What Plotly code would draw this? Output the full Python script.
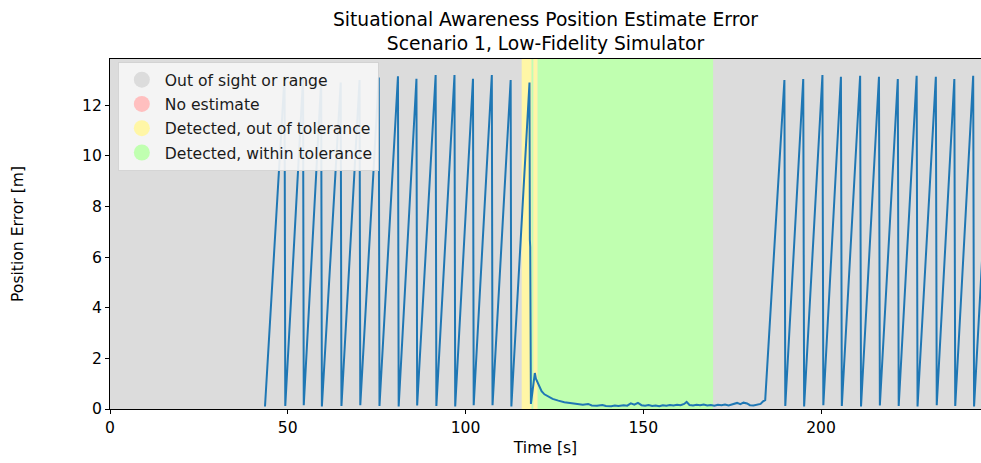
import plotly.graph_objects as go

# ---------------- data ----------------
# Sawtooth before detection (time [s], error [m])
pre_t = [43.6, 49.1, 49.3, 54.3, 54.5, 59.4, 59.6, 64.9, 65.1, 70.2, 70.4,
         75.6, 75.8, 81.0, 81.2, 86.2, 86.4, 91.6, 91.8, 96.9, 97.1, 102.1, 102.3,
         107.4, 107.6, 112.7, 112.9, 118.0]
pre_e = [0.10, 13.15, 0.12, 13.05, 0.15, 12.95, 0.10, 12.90, 0.12, 13.00, 0.15,
         13.10, 0.12, 13.15, 0.10, 13.05, 0.14, 13.20, 0.12, 13.20, 0.10, 13.05, 0.15,
         13.20, 0.15, 13.00, 0.10, 12.90]

# Detection / tracking segment
mid_t = [118.1, 118.2, 118.4, 119.5, 119.8, 120.3, 120.8, 121.4, 122.2, 123.3,
         124.5, 126.1, 127.8, 129.9, 131.5, 133.0, 134.5, 135.5, 137.0, 138.5,
         139.5, 141.0, 142.0, 143.0, 144.5, 145.5, 146.5, 147.5, 148.5, 149.5,
         150.5, 151.5, 152.5, 153.5, 154.5, 155.5, 156.5, 157.5, 158.5, 159.5,
         160.5, 161.5, 162.2, 163.0, 164.0, 165.0, 166.0, 167.0, 168.0, 169.0,
         170.0, 171.0, 172.0, 173.0, 174.0, 175.0, 176.4, 177.3, 178.2, 179.2,
         180.0, 181.0, 182.0, 183.0, 183.7, 184.3]
mid_e = [6.70, 6.40, 0.20, 1.42, 1.20, 1.02, 0.85, 0.70, 0.58, 0.49,
         0.40, 0.33, 0.27, 0.23, 0.20, 0.17, 0.20, 0.14, 0.13, 0.16,
         0.12, 0.11, 0.14, 0.12, 0.15, 0.13, 0.22, 0.17, 0.24, 0.15,
         0.13, 0.16, 0.12, 0.14, 0.11, 0.15, 0.13, 0.16, 0.14, 0.17,
         0.15, 0.20, 0.28, 0.16, 0.14, 0.17, 0.15, 0.18, 0.14, 0.16,
         0.13, 0.17, 0.15, 0.18, 0.14, 0.17, 0.24, 0.19, 0.25, 0.22,
         0.15, 0.14, 0.16, 0.20, 0.30, 0.35]

# Sawtooth after losing the target
post_t = [189.7, 189.95, 195.0, 195.25, 200.4, 200.65, 205.6, 205.85, 211.0, 211.25,
          216.3, 216.55, 221.6, 221.85, 226.9, 227.15, 232.3, 232.55, 237.5, 237.75,
          242.8, 243.05, 248.1]
post_e = [13.00, 0.12, 13.04, 0.10, 13.20, 0.15, 13.13, 0.12, 13.17, 0.10,
          13.13, 0.14, 13.04, 0.12, 13.17, 0.10, 13.13, 0.15, 13.04, 0.12,
          13.17, 0.10, 13.10]

time = pre_t + mid_t + post_t
error = pre_e + mid_e + post_e

# Status regions: start, end, state
region_start = [0.0, 115.8, 118.6, 119.1, 120.3, 169.7]
region_end = [115.8, 118.6, 119.1, 120.3, 169.7, 260.0]
region_state = ["out", "out_tol", "in_tol", "out_tol", "in_tol", "out"]

state_names = ["Out of sight or range", "No estimate",
               "Detected, out of tolerance", "Detected, within tolerance"]
state_keys = ["out", "none", "out_tol", "in_tol"]
state_colors = ["#dcdcdc", "#ffbfbf", "#fff6a6", "#c0ffb0"]

x_ticks = [0, 50, 100, 150, 200]
y_ticks = [0, 2, 4, 6, 8, 10, 12]

# ---------------- figure ----------------
FONT = "DejaVu Sans"
FS = 15.6
fig = go.Figure()

color_of = dict(zip(state_keys, state_colors))
for s, e, st in zip(region_start, region_end, region_state):
    fig.add_shape(type="rect", xref="x", yref="paper", x0=s, x1=e, y0=0, y1=1,
                  fillcolor=color_of[st], line_width=0, layer="below")

for i, (name, col) in enumerate(zip(state_names, state_colors)):
    fig.add_trace(go.Scatter(x=[None], y=[None], mode="markers", name=name,
                             legendgroup=f"g{i}",
                             marker=dict(symbol="circle", size=16, color=col)))

fig.add_trace(go.Scatter(x=time, y=error, mode="lines", showlegend=False,
                         line=dict(color="#1f77b4", width=2)))

fig.update_layout(
    width=981, height=463,
    margin=dict(l=110, r=0, t=59, b=54),
    paper_bgcolor="white",
    plot_bgcolor="#dcdcdc",
    font=dict(family=FONT, size=FS, color="#000000"),
    title=dict(text="Situational Awareness Position Estimate Error<br>Scenario 1, Low-Fidelity Simulator",
               x=0.5, xref="paper", xanchor="center",
               y=1 - 25.5 / 463, yref="container", yanchor="middle",
               font=dict(family=FONT, size=18.7, color="#000000")),
    legend=dict(x=0.009, y=(409 - 62) / 350, xanchor="left", yanchor="top",
                bgcolor="rgba(245,245,245,0.92)", bordercolor="rgba(210,210,210,0.9)",
                borderwidth=1, font=dict(family=FONT, size=FS, color="#1a1a1a"),
                tracegroupgap=1, itemwidth=36),
    showlegend=True,
)

fig.update_xaxes(range=[0, 245], tickvals=x_ticks, ticks="outside", ticklen=4,
                 tickcolor="black", showline=True, linecolor="black", linewidth=1,
                 mirror=True, showgrid=False, zeroline=False,
                 title=dict(text="Time [s]", standoff=6, font=dict(size=FS)))
fig.update_yaxes(range=[0, 13.83], tickvals=y_ticks, ticks="outside", ticklen=4,
                 tickcolor="black", showline=True, linecolor="black", linewidth=1,
                 showgrid=False, zeroline=False,
                 title=dict(text="Position Error [m]", standoff=54, font=dict(size=FS)))

fig.write_html("out.html")
